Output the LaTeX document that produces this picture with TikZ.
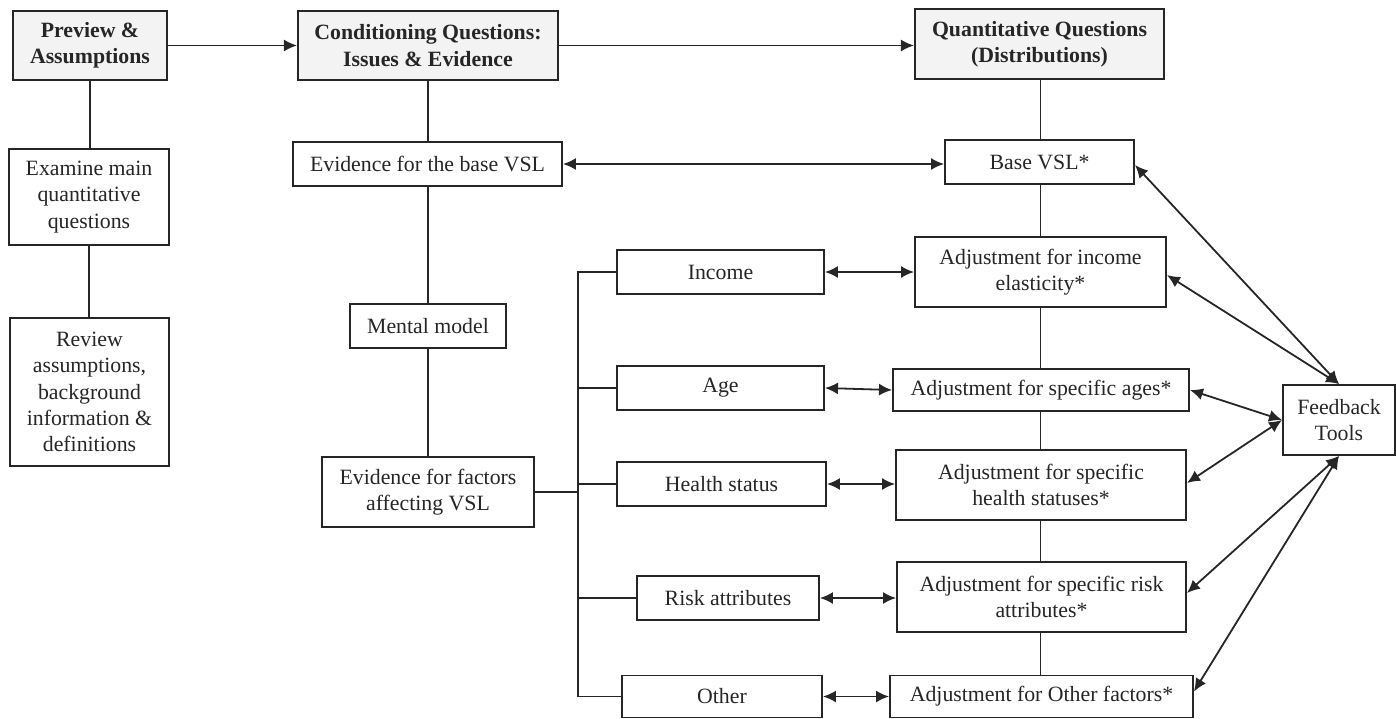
\documentclass[tikz,border=0pt]{standalone}
\usepackage{fontspec}
\setmainfont{Liberation Serif}
\usetikzlibrary{arrows.meta}
\definecolor{ink}{HTML}{262626}
\definecolor{headfill}{HTML}{F3F3F3}
\begin{document}
\begin{tikzpicture}[x=1pt,y=-1pt,
  box/.style={draw=ink, line width=1.9pt, fill=white, inner sep=0pt, align=center, text=ink,
    font=\fontsize{21.8}{26.3}\selectfont},
  head/.style={box, fill=headfill, line width=2.1pt, font=\fontsize{21.8}{26.3}\selectfont\bfseries},
  link/.style={draw=ink, line width=1.8pt},
  tip/.tip={Latex[length=13pt,width=12pt]},
  arr/.style={link, -tip},
  darr/.style={link, tip-tip},
]
\useasboundingbox (0,0) rectangle (1396,718);

% headers
\node[head, minimum width=154pt, minimum height=69pt] (prev) at (90,45.5) {Preview \&\\Assumptions};
\node[head, minimum width=260pt, minimum height=69pt] (cond) at (428,45.5) {Conditioning Questions:\\Issues \& Evidence};
\node[head, minimum width=249pt, minimum height=70pt] (quant) at (1039.5,44) {Quantitative Questions\\(Distributions)};

% left column
\node[box, minimum width=160pt, minimum height=96pt] (exam) at (89,197) {Examine main\\quantitative\\questions};
\node[box, minimum width=159pt, minimum height=148pt] (rev) at (89.5,392) {Review\\assumptions,\\background\\information \&\\definitions};

% middle column
\node[box, minimum width=269pt, minimum height=44pt] (evbase) at (427.5,164) {Evidence for the base VSL};
\node[box, minimum width=156pt, minimum height=44pt] (mental) at (428,326) {Mental model};
\node[box, minimum width=212pt, minimum height=70pt] (evfact) at (428,492) {Evidence for factors\\affecting VSL};

% factors
\node[box, minimum width=207pt, minimum height=44pt] (inc) at (720.5,272) {Income};
\node[box, minimum width=207pt, minimum height=44pt] (age) at (720.5,388) {Age};
\node[box, minimum width=209pt, minimum height=44pt] (hea) at (721.5,484) {Health status};
\node[box, minimum width=182pt, minimum height=44pt] (risk) at (728,598) {Risk attributes};
\node[box, minimum width=200pt, minimum height=42pt] (oth) at (722,696.5) {Other};

% adjustments
\node[box, minimum width=189pt, minimum height=44pt] (base) at (1039.5,162) {Base VSL*};
\node[box, minimum width=251pt, minimum height=70pt] (incadj) at (1040.5,272) {Adjustment for income\\elasticity*};
\node[box, minimum width=296pt, minimum height=42pt] (ageadj) at (1041,390) {Adjustment for specific ages*};
\node[box, minimum width=290pt, minimum height=70pt] (heaadj) at (1041,485) {Adjustment for specific\\health statuses*};
\node[box, minimum width=289pt, minimum height=70pt] (riskadj) at (1041.5,597) {Adjustment for specific risk\\attributes*};
\node[box, minimum width=303pt, minimum height=42pt] (othadj) at (1041.5,696.5) {Adjustment for Other factors*};

\node[box, minimum width=112pt, minimum height=70pt] (fb) at (1339,420) {Feedback\\Tools};

% helper coordinates
\coordinate (bustop) at (578,272);
\coordinate (busbot) at (578,696.5);
\coordinate (rcol) at (1040.5,0);

% header arrows
\draw[arr] (prev.east) -- (cond.west);
\draw[arr] (cond.east) -- (cond.east -| quant.west);

% vertical links
\draw[link] (prev.south) -- (prev.south |- exam.north);
\draw[link] (exam.south) -- (exam.south |- rev.north);
\draw[link] (cond.south) -- (evbase.north -| cond.south);
\draw[link] (evbase.south -| cond.south) -- (mental.north);
\draw[link] (mental.south) -- (evfact.north);
\draw[link] (rcol |- quant.south) -- (rcol |- base.north);
\draw[link] (rcol |- base.south) -- (rcol |- incadj.north);
\draw[link] (rcol |- incadj.south) -- (rcol |- ageadj.north);
\draw[link] (rcol |- ageadj.south) -- (rcol |- heaadj.north);
\draw[link] (rcol |- heaadj.south) -- (rcol |- riskadj.north);
\draw[link] (rcol |- riskadj.south) -- (rcol |- othadj.north);

% bus
\draw[link] (inc.west) -- (bustop) -- (busbot) -- (oth.west);
\draw[link] (evfact.east) -- (evfact.east -| bustop);
\draw[link] (age.west) -- (age.west -| bustop);
\draw[link] (hea.west) -- (hea.west -| bustop);
\draw[link] (risk.west) -- (risk.west -| bustop);

% double arrows
\draw[darr] (evbase.east) -- (evbase.east -| base.west);
\draw[darr] (inc.east) -- (inc.east -| incadj.west);
\draw[darr] (age.east) -- (ageadj.west);
\draw[darr] (hea.east) -- (hea.east -| heaadj.west);
\draw[darr] (risk.east) -- (risk.east -| riskadj.west);
\draw[darr] (oth.east) -- (oth.east -| othadj.west);

% feedback arrows
\draw[darr] (fb.north) -- ([yshift=-3pt]base.east);
\draw[darr] (fb.north) -- ([yshift=-3pt]incadj.east);
\draw[darr] (fb.west) -- (ageadj.east);
\draw[darr] (fb.west) -- ([yshift=2pt]heaadj.east);
\draw[darr] (fb.south) -- ([yshift=4pt]riskadj.east);
\draw[darr] (fb.south) -- ([yshift=5pt]othadj.east);
\end{tikzpicture}
\end{document}
